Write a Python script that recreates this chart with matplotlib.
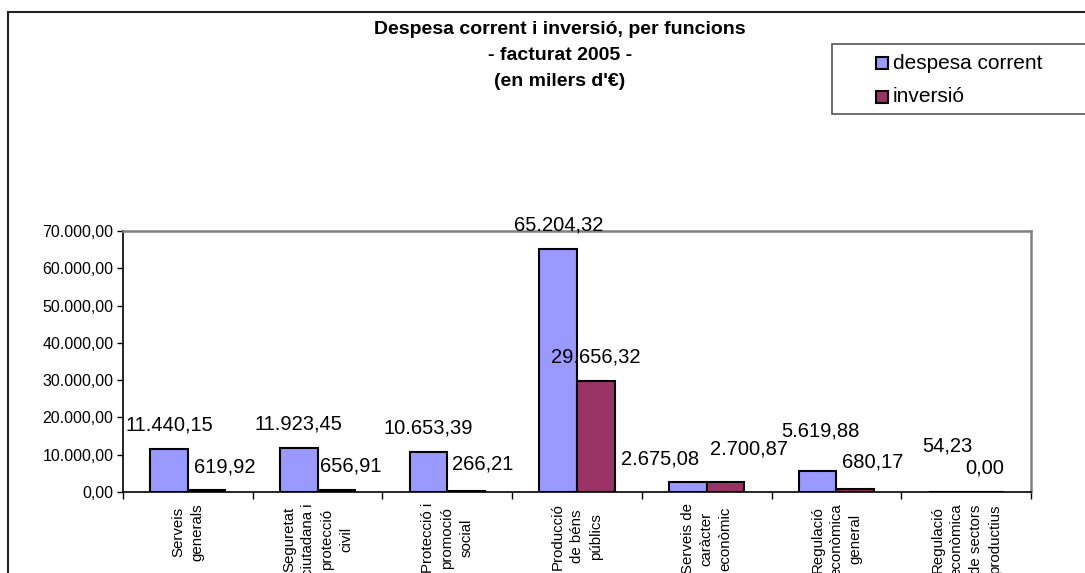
import matplotlib
matplotlib.use("Agg")
import matplotlib.pyplot as plt
import numpy as np
from matplotlib.lines import Line2D
from matplotlib.patches import Rectangle

plt.rcParams['font.family'] = ['Liberation Sans', 'DejaVu Sans']

# data (milers d'euros)
categories = [
    "Serveis\ngenerals",
    "Seguretat\nciutadana i\nprotecció\ncivil",
    "Protecció i\npromoció\nsocial",
    "Producció\nde béns\npúblics",
    "Serveis de\ncaràcter\neconòmic",
    "Regulació\neconòmica\ngeneral",
    "Regulació\neconòmica\nde sectors\nproductius",
]
despesa_corrent = [11440.15, 11923.45, 10653.39, 65204.32, 2675.08, 5619.88, 54.23]
inversio = [619.92, 656.91, 266.21, 29656.32, 2700.87, 680.17, 0.00]
series_names = ["despesa corrent", "inversió"]
yticks = [0, 10000, 20000, 30000, 40000, 50000, 60000, 70000]

# label nudges (pixels) to mimic the spreadsheet's label placement
nudge_blue = [(0, 24), (0, 24), (0, 24), (0, 24), (-28, 23), (3, 40), (0, 46)]
nudge_red = [(18, 23), (14, 24), (17, 27), (0, 24), (23, 33), (17, 27), (0, 24)]

blue = '#9999FF'
red = '#993366'
W, H = 1085, 573


def fmt(v):
    s = f"{v:,.2f}"
    return s.replace(",", "X").replace(".", ",").replace("X", ".")


fig = plt.figure(figsize=(W / 100, H / 100), dpi=100)
ax = fig.add_axes([123 / W, (H - 492) / H, (1031 - 123) / W, (492 - 231) / H])

x = np.arange(len(categories))
bw = 0.29
b1 = ax.bar(x - bw / 2, despesa_corrent, bw, color=blue, edgecolor='black', linewidth=1.5, zorder=2)
b2 = ax.bar(x + bw / 2, inversio, bw, color=red, edgecolor='black', linewidth=1.5, zorder=2)

for bars, vals, nud in [(b1, despesa_corrent, nudge_blue), (b2, inversio, nudge_red)]:
    for r, v, (dx, dy) in zip(bars, vals, nud):
        ax.annotate(fmt(v), (r.get_x() + r.get_width() / 2, v), xytext=(dx, dy),
                    textcoords='offset pixels', ha='center', va='center',
                    fontsize=14.5, annotation_clip=False, zorder=5)

ax.set_xlim(-0.5, len(categories) - 0.5)
ax.set_ylim(0, 70000)
ax.set_yticks(yticks)
ax.set_yticklabels([fmt(v) for v in yticks], fontsize=11.5)
ax.tick_params(axis='y', direction='out', length=4, width=1, pad=3)

ax.set_xticks(np.arange(len(categories) + 1) - 0.5)
ax.set_xticklabels([])
ax.tick_params(axis='x', which='major', direction='out', length=5, width=1)
ax.set_xticks(x, minor=True)
ax.set_xticklabels(categories, minor=True, rotation=90, fontsize=10.8, ma='center',
                   linespacing=1.45)
ax.tick_params(axis='x', which='minor', length=0, pad=8)

for s in ['left', 'bottom']:
    ax.spines[s].set_color('black')
    ax.spines[s].set_linewidth(1.2)
for s in ['top', 'right']:
    ax.spines[s].set_color('#808080')
    ax.spines[s].set_linewidth(1.8)

# title
fig.text(560 / W, 1 - 30 / H, "Despesa corrent i inversió, per funcions", ha='center', va='center',
         fontsize=14, fontweight='bold')
fig.text(560 / W, 1 - 56 / H, "- facturat 2005 -", ha='center', va='center',
         fontsize=14, fontweight='bold')
fig.text(560 / W, 1 - 82 / H, "(en milers d'€)", ha='center', va='center',
         fontsize=14, fontweight='bold')

# legend box
fig.add_artist(Rectangle((832 / W, 1 - 114 / H), (1090 - 832) / W, 70 / H,
                         transform=fig.transFigure, facecolor='white', edgecolor='#555555',
                         linewidth=1.2))
for i, (name, c) in enumerate(zip(series_names, [blue, red])):
    yc = 1 - (63 + 34 * i) / H
    fig.add_artist(Rectangle((876 / W, yc - 6 / H), 12 / W, 12 / H, transform=fig.transFigure,
                             facecolor=c, edgecolor='black', linewidth=1.5))
    fig.text(893 / W, yc, name, ha='left', va='center', fontsize=15)

# outer chart border
fig.add_artist(Line2D([8 / W, 1], [1 - 12 / H, 1 - 12 / H], transform=fig.transFigure,
                      color='#222222', linewidth=1.5))
fig.add_artist(Line2D([8 / W, 8 / W], [0, 1 - 12 / H], transform=fig.transFigure,
                      color='#222222', linewidth=1.5))

fig.savefig('out.png', dpi=100)
